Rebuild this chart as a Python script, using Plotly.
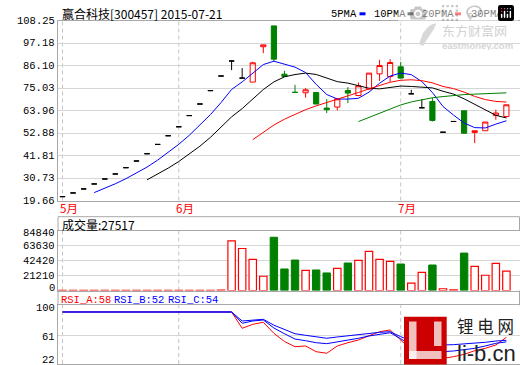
import plotly.graph_objects as go

W, H = 520, 365
def px(x): return x / W
def py(y): return 1 - y / H

# ---------------- data ----------------
day_index = list(range(43))
month_labels = ["5月", "6月", "7月"]
month_start_index = [0, 11, 32]

open_price = [21.56, 23.38, 25.35, 27.81, 30.27, 32.73, 35.83, 39.12, 42.71, 47.29, 51.57, 56.0, 61.5, 67.2, 73.8, 81.0,
              88.4, 79.96, 78.0, 95.4, 105.7, 81.9, 73.0, 72.73, 72.9, 65.2, 65.69, 73.86, 71.4, 74.55, 82.07, 80.75,
              85.52, 72.23, 65.35, 68.45, 53.3, 58.6, 63.87, 53.2, 54.03, 61.56, 61.07]
high_price = [21.56, 23.38, 25.35, 27.81, 30.27, 32.73, 35.83, 39.12, 42.71, 47.29, 51.57, 56.0, 61.5, 67.2, 73.8, 81.0,
              88.4, 84.9, 88.0, 96.34, 105.7, 83.6, 76.65, 75.04, 72.9, 69.6, 69.77, 75.53, 77.8, 82.42, 88.96, 89.3,
              87.98, 74.2, 69.63, 70.12, 53.3, 58.6, 63.87, 54.03, 58.31, 64.36, 66.82]
low_price = [21.56, 23.38, 25.35, 27.81, 30.27, 32.73, 35.83, 39.12, 42.71, 47.29, 51.57, 56.0, 61.5, 67.2, 73.8, 81.0,
             83.9, 79.96, 78.0, 92.26, 88.0, 80.8, 72.9, 70.4, 67.17, 62.75, 64.0, 67.66, 71.0, 74.55, 78.6, 78.14,
             79.96, 72.23, 65.35, 58.6, 53.3, 58.6, 52.74, 47.98, 54.03, 59.45, 60.6]
close_price = [21.56, 23.38, 25.35, 27.81, 30.27, 32.73, 35.83, 39.12, 42.71, 47.29, 51.57, 56.0, 61.5, 67.2, 73.8, 81.0,
               88.4, 79.96, 87.5, 96.34, 89.3, 80.8, 72.9, 74.2, 67.17, 64.4, 69.77, 72.58, 76.17, 82.42, 86.16, 87.64,
               79.96, 72.23, 65.35, 59.1, 53.3, 58.6, 52.8, 54.03, 58.31, 62.74, 66.82]

ma5 = [None, None, None,
       23.55, 25.67, 27.91, 30.40, 33.15, 36.13, 39.54, 43.30, 47.34, 51.81, 56.71, 62.01, 67.90, 74.38, 78.07,
       82.13, 86.64, 88.30, 86.78, 85.37, 82.71, 76.87, 71.89, 69.69, 69.62, 70.02, 73.07, 77.42, 80.99, 82.47,
       81.68, 78.27, 72.86, 65.99, 61.72, 57.83, 55.57, 55.41, 57.30, 58.94]
ma10 = [None] * 8 + [29.84, 32.61, 35.61, 38.87, 42.48, 46.42, 50.78, 55.60, 60.86, 64.94, 69.42, 74.33, 78.10,
                     80.58, 81.72, 82.42, 81.76, 80.10, 78.23, 77.50, 76.36, 74.97, 74.66, 75.34, 76.05, 75.85,
                     75.67, 75.14, 73.49, 72.09, 69.76, 66.92, 64.13, 61.64, 60.33]
ma20 = [None] * 18 + [49.63, 53.47, 56.85, 59.72, 62.10, 64.42, 66.27, 67.85, 69.55, 71.22, 72.89, 74.65, 76.38,
                      77.96, 78.88, 79.14, 78.71, 77.62, 75.86, 74.79, 73.06, 70.94, 69.39, 68.49, 68.19]
ma30 = [None] * 28 + [58.54, 60.63, 62.79, 64.93, 66.75, 68.23, 69.40, 70.28, 70.86, 71.51, 71.85, 72.07, 72.30,
                      72.52, 72.70]

volume = [320, 150, 180, 160, 200, 210, 230, 250, 260, 280, 300, 320, 330, 350, 380, 400,
          70750, 59910, 44350, 20310, 75930, 30680, 43410, 28800, 29270, 25030, 31630, 39170, 42940, 55670,
          44350, 41530, 37750, 10420, 25970, 36340, 2500, 900, 53310, 34460, 21730, 38700, 27517]

rsi_a = [91.2] * 17 + [69.8, 75.0, 77.7, 63.2, 52.5, 45.6, 46.6, 39.1, 37.0, 46.6, 50.9, 54.4, 60.1, 65.3, 67.6,
                       54.4, 41.3, 33.4, 31.2, 30.4, 32.5, 35.6, 40.4, 43.5, 47.9, 58.0]
rsi_b = [91.2] * 17 + [76.4, 79.4, 80.7, 70.2, 62.7, 55.7, 53.5, 50.9, 49.6, 51.8, 54.4, 56.7, 59.7, 62.3, 64.0,
                       56.1, 47.9, 43.5, 41.3, 39.1, 40.0, 41.3, 43.5, 46.6, 50.1, 52.0]
rsi_c = [91.2] * 17 + [79.4, 80.7, 81.6, 73.9, 68.0, 62.7, 60.6, 58.4, 56.7, 58.4, 60.1, 61.9, 63.2, 64.5, 65.3,
                       58.8, 53.5, 50.1, 48.8, 47.9, 48.3, 49.2, 50.1, 51.4, 53.1, 54.0]

price_ticks = [19.66, 30.73, 41.81, 52.88, 63.96, 75.03, 86.10, 97.18, 108.25]
price_tick_text = ["19.66", "30.73", "41.81", "52.88", "63.96", "75.03", "86.10", "97.18", "108.25"]
vol_ticks = [0, 21210, 42420, 63630, 84840]
vol_tick_text = ["0", "21210", "42420", "63630", "84840"]
rsi_ticks = [22, 61, 100]
rsi_tick_text = ["22", "61", "100"]

title_text = "赢合科技[300457] 2015-07-21"
ma_names = ["5PMA", "10PMA", "20PMA", "30PMA"]
vol_label = "成交量:27517"
rsi_labels = ["RSI_A:58", "RSI_B:52", "RSI_C:54"]

# ---------------- styling ----------------
RED = "#ff0000"
GREEN = "#008000"
BLUE = "#0000ff"
BLACK = "#000000"
BORDER = "#a8a8a8"
GRID = "#d6d6d6"
MONO = "Liberation Mono, DejaVu Sans Mono, monospace"
CJK = "Noto Sans CJK SC, sans-serif"
SANS = "Liberation Sans, Arial, sans-serif"

fig = go.Figure()

def sub(arr, ids):
    return [arr[i] for i in ids]

red_i = [i for i in day_index if close_price[i] > open_price[i]]
green_i = [i for i in day_index if close_price[i] < open_price[i]]
flat_i = [i for i in day_index if close_price[i] == open_price[i]]

def candle(ids, color, fill):
    style = dict(line=dict(color=color, width=1), fillcolor=fill)
    return go.Candlestick(x=ids, open=sub(open_price, ids), high=sub(high_price, ids),
                          low=sub(low_price, ids), close=sub(close_price, ids),
                          increasing=style, decreasing=style, whiskerwidth=0,
                          showlegend=False, hoverinfo="skip", xaxis="x", yaxis="y")

fig.add_trace(candle(flat_i, BLACK, BLACK))
fig.add_trace(candle(green_i, GREEN, GREEN))
fig.add_trace(candle(red_i, RED, "rgba(255,255,255,0)"))

for ma, col in zip([ma5, ma10, ma20, ma30], [BLUE, BLACK, RED, GREEN]):
    fig.add_trace(go.Scatter(x=day_index, y=ma, mode="lines", line=dict(color=col, width=1),
                             showlegend=False, hoverinfo="skip", xaxis="x", yaxis="y"))

vol_up = [i for i in day_index if close_price[i] >= open_price[i]]
vol_dn = [i for i in day_index if close_price[i] < open_price[i]]
fig.add_trace(go.Bar(x=vol_up, y=sub(volume, vol_up), width=0.7,
                     marker=dict(color="white", line=dict(color=RED, width=1.2)),
                     showlegend=False, hoverinfo="skip", xaxis="x2", yaxis="y2"))
fig.add_trace(go.Bar(x=vol_dn, y=sub(volume, vol_dn), width=0.7,
                     marker=dict(color=GREEN, line=dict(color=GREEN, width=1)),
                     showlegend=False, hoverinfo="skip", xaxis="x2", yaxis="y2"))

for r, col in zip([rsi_a, rsi_b, rsi_c], [RED, BLUE, BLUE]):
    fig.add_trace(go.Scatter(x=day_index, y=r, mode="lines", line=dict(color=col, width=1),
                             showlegend=False, hoverinfo="skip", xaxis="x3", yaxis="y3"))

xdom = [px(58), px(519.5)]
xr = [-0.426, 43.24]
xcommon = dict(domain=xdom, range=xr, showline=True, mirror=True, linecolor=BORDER, linewidth=1,
               showticklabels=False, showgrid=False, zeroline=False, ticks="", fixedrange=True)
ycommon = dict(showline=True, mirror=True, linecolor=BORDER, linewidth=1, showticklabels=False,
               showgrid=True, gridcolor=GRID, gridwidth=1, zeroline=False, ticks="", fixedrange=True)

fig.update_layout(
    width=W, height=H, margin=dict(l=0, r=0, t=0, b=0),
    paper_bgcolor="white", plot_bgcolor="white", showlegend=False, barmode="overlay",
    xaxis=dict(xcommon, anchor="y", rangeslider=dict(visible=False)),
    xaxis2=dict(xcommon, anchor="y2", matches="x"),
    xaxis3=dict(xcommon, anchor="y3", matches="x"),
    yaxis=dict(ycommon, domain=[py(200.5), py(20.7)], range=[price_ticks[0], price_ticks[-1]],
               tickvals=price_ticks, anchor="x"),
    yaxis2=dict(ycommon, domain=[py(290.5), py(231)], range=[vol_ticks[0], vol_ticks[-1]],
                tickvals=vol_ticks, anchor="x2"),
    yaxis3=dict(ycommon, domain=[py(364), py(305.3)], range=[22.92, 100],
                tickvals=[rsi_ticks[1]], anchor="x3"),
)

shapes = []
# month dashed lines in each panel
for mi in month_start_index:
    for (y0, y1) in [(200.5, 20.7), (290.5, 231), (364, 305.3)]:
        shapes.append(dict(type="line", xref="x", yref="paper", x0=mi, x1=mi, y0=py(y0), y1=py(y1),
                           line=dict(color="#c4c4c4", width=1, dash="4px,3px"), layer="below"))
# extra frame lines
shapes.append(dict(type="line", xref="paper", yref="paper", x0=px(58), x1=px(519.5), y0=py(216.7), y1=py(216.7),
                   line=dict(color=BORDER, width=1)))
for (y0, y1) in [(216.7, 231), (290.5, 305.3)]:
    for xx in [58, 519.5]:
        shapes.append(dict(type="line", xref="paper", yref="paper", x0=px(xx), x1=px(xx), y0=py(y0), y1=py(y1),
                           line=dict(color=BORDER, width=1)))
# legend colour marks
for xx, col in zip([359.5, 407.5, 455, 503.5], [BLUE, BLACK, RED, GREEN]):
    shapes.append(dict(type="rect", xref="paper", yref="paper", x0=px(xx), x1=px(xx + 6), y0=py(15.3), y1=py(12.3),
                       line=dict(width=0), fillcolor=col))
# eastmoney swoosh watermark (light grey)
sw = [(419, 44), (423, 33), (429, 26), (437, 22), (434, 29), (430, 35), (426, 41), (423, 46)]
path = "M " + " L ".join(f"{px(x):.5f},{py(y):.5f}" for x, y in sw) + " Z"
shapes.append(dict(type="path", xref="paper", yref="paper", path=path, line=dict(width=0),
                   fillcolor="#d8d8d8", layer="above"))
# li-b.cn logo
shapes.append(dict(type="rect", xref="paper", yref="paper", x0=px(404), x1=px(446.7), y0=py(364.5), y1=py(316.7),
                   line=dict(width=0), fillcolor="#cc0000", layer="above"))
for (x0, x1, y0, y1) in [(409, 416.5, 321.5, 359), (409, 441.5, 351, 359), (434, 441.5, 321.5, 346)]:
    shapes.append(dict(type="rect", xref="paper", yref="paper", x0=px(x0), x1=px(x1), y0=py(y1), y1=py(y0),
                       line=dict(width=0), fillcolor="rgba(255,255,255,0.75)", layer="above"))
fig.update_layout(shapes=shapes)

ann = []
def A(text, x, y, size, color, family, xanchor="left", xref="paper", yref="paper", yshift=0, height=None):
    d = dict(text=text, x=x, y=y, xref=xref, yref=yref, xanchor=xanchor, yanchor="middle",
             showarrow=False, font=dict(size=size, color=color, family=family), yshift=yshift)
    if height is not None:
        d["height"] = height
    ann.append(d)

A(title_text, px(60), py(14), 12, BLACK, CJK)
for name, xx in zip(ma_names, [330.7, 373.3, 421.5, 470]):
    A(name, px(xx - 1.5), py(14), 10.5, BLACK, MONO)
for v, t in zip(price_ticks, price_tick_text):
    A(t, px(57), v, 10.5, BLACK, MONO, xanchor="right", yref="y")
for v, t, sh in zip(vol_ticks, vol_tick_text, [3.5, 0, 0, 0, -1.7]):
    A(t, px(57), v, 10.5, BLACK, MONO, xanchor="right", yref="y2", yshift=sh, height=11)
for t, yy in zip(rsi_tick_text, [359.5, 336, 307.3]):
    A(t, px(57), py(yy), 10.5, BLACK, MONO, xanchor="right", height=11)
for lab, mi in zip(month_labels, month_start_index):
    ann.append(dict(text=lab, x=mi, y=py(208), xref="x", yref="paper", xanchor="left", yanchor="middle",
                    xshift=-5, showarrow=False, font=dict(size=11.5, color=RED, family=CJK)))
A(vol_label, px(59.5), py(224), 12, BLACK, CJK)
for lab, xx, col in zip(rsi_labels, [59, 112, 165.7], [RED, BLUE, BLUE]):
    A(lab, px(xx), py(299.5), 10.5, col, MONO)
# watermarks
A("东方财富网", px(440), py(29.5), 13, "#d2d2d2", CJK, height=14)
A("<b>eastmoney.com</b>", px(440), py(44.5), 9.5, "#d6d6d6", SANS, height=10)
A("锂 电 网", px(455), py(326), 16.5, "#222222", CJK)
A("li-b.cn", px(455), py(352.5), 22, "#222222", SANS, height=22)
fig.update_layout(annotations=ann)

fig.write_html("out.html", post_script="document.body.style.margin='0';document.body.style.padding='0';")
